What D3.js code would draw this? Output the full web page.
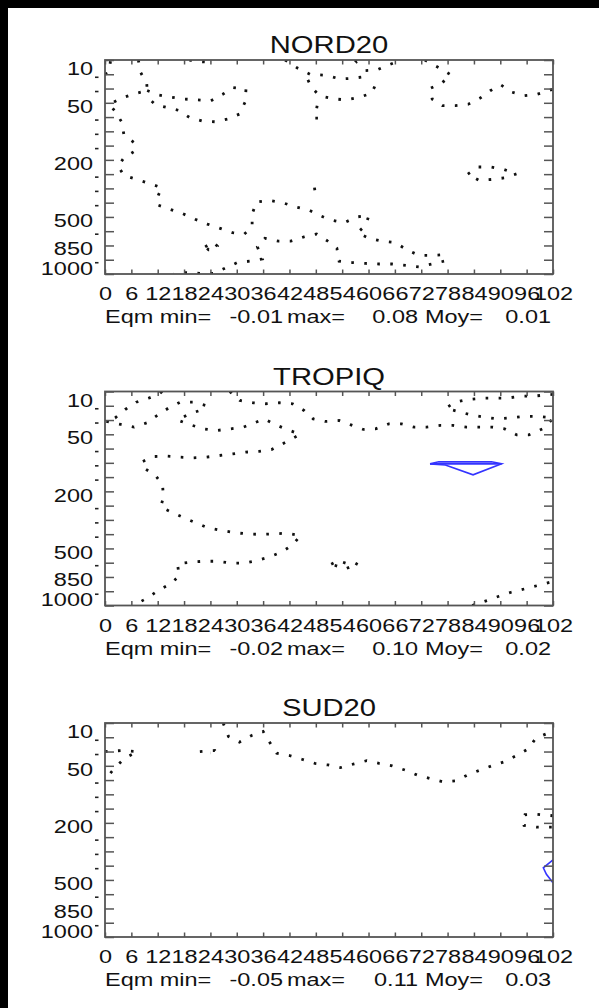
<!DOCTYPE html>
<html>
<head>
<meta charset="utf-8">
<script src="https://cdn.jsdelivr.net/npm/d3@7"></script>
<style>
html, body { margin: 0; padding: 0; background: #fff; }
svg { display: block; }
text { font-family: "Liberation Sans", Arial, Helvetica, sans-serif; fill: #111; }
</style>
</head>
<body>
<svg id="chart"></svg>
<script>
// pressure levels (one tick each, equally spaced) and forecast hours
var levels = [10, 20, 30, 50, 70, 100, 150, 200, 250, 300, 400, 500, 700, 850, 925, 1000];
var yLabels = ["10", "50", "200", "500", "850", "1000"];
var yLabelPos = [0.6, 3.25, 7.25, 11.25, 13.2, 14.6];
var dashPos = [1, 2, 4, 5, 6, 8, 9, 10, 12, 14];
var xTicks = [0, 6, 12, 18, 24, 30, 36, 42, 48, 54, 60, 66, 72, 78, 84, 90, 96, 102];

var panelNames = ["NORD20", "TROPIQ", "SUD20"];
var statMin = ["-0.01", "-0.02", "-0.05"];
var statMax = ["0.08", "0.10", "0.11"];
var statMoy = ["0.01", "0.02", "0.03"];

// contours : [hour, level index]
var nordDotted = [
    [[7.6,0],[8.0,0.81],[9.5,1.63],[9.6,2.14],[6.7,2.37],[3.8,2.67],[1.0,3.1],[2.3,3.6],[3.8,4.35],[4.3,5.23],[6.7,5.81],[6.7,6.4],[4.3,6.86],[3.0,7.44],[4.3,8.09],[7.2,8.37],[10.1,8.65],[12.9,8.95],[12.0,9.58],[12.0,10.16],[14.8,10.47],[17.7,10.77],[20.5,11.16],[23.3,11.5],[26.2,11.8],[29.0,12.1],[31.7,12.2],[33.5,11.7],[33.5,10.8],[34.5,9.95],[37.4,9.84],[40.4,10.0],[43.4,10.3],[46.3,10.5],[48.9,10.9],[51.2,11.2],[54.5,11.4],[57.3,11.0],[60.1,10.9],[59.3,11.6],[57.5,12.1],[60.1,12.5],[63.1,12.7],[66.1,12.8],[68.7,13.3],[71.5,13.7],[74.4,13.7],[77.2,13.65],[77.2,14.1],[74.4,14.3],[71.5,14.5],[68.5,14.4],[65.4,14.3],[62.4,14.3],[59.3,14.26],[56.3,14.2],[53.3,14.1],[52.8,13.2],[50.5,12.65],[48.2,12.2],[45.3,12.4],[42.3,12.7],[39.5,12.7],[36.4,12.5],[34.7,13.1],[35.8,13.95],[33.0,14.1],[30.1,14.2],[27.3,14.6],[24.7,14.95],[21.6,14.95],[18.4,14.9],[15.7,15.0]],
    [[9.6,2.14],[12.1,2.44],[14.9,2.6],[18.1,2.74],[21.0,2.79],[24.1,2.86],[26.8,2.4],[29.2,1.93],[32.1,2.05],[31.9,2.95],[30.6,3.79],[27.9,4.14],[25.0,4.33],[22.2,4.28],[19.2,4.02],[16.8,3.53],[13.8,3.3],[11.5,3.14],[9.6,2.6]],
    [[0,1.0],[0.8,0.9],[1.3,0]],
    [[19.2,0],[20.1,0.08],[23.3,0.15],[24.5,0]],
    [[41.0,0],[43.9,0.58],[46.7,1.0],[50.5,1.08],[53.5,1.33],[56.5,1.28],[59.3,1.16],[59.3,0.74],[61.9,0.7],[64.5,0.35],[67.5,0]],
    [[46.2,1.4],[47.0,1.9],[48.8,2.5],[52.0,2.72],[54.8,2.8],[57.7,2.63],[60.7,2.33],[61.5,1.8],[61.8,1.4]],
    [[48.3,3.2],[47.8,4.07],[50.3,4.07]],
    [[47.7,8.95],[47.9,9.45]],
    [[56.9,0],[57.3,0.12],[57.7,0]],
    [[72.8,0],[76.3,0.58],[78.8,1.05],[76.6,1.63],[74.0,2.0],[74.5,2.74],[76.8,3.2],[79.8,3.2],[82.7,3.1],[85.4,2.67],[87.8,2.14],[90.1,1.74],[92.7,2.26],[95.4,2.5],[98.4,2.4],[102,2.05]],
    [[82.6,8.0],[85.0,7.5],[87.8,7.5],[90.8,7.67],[93.7,7.98],[91.0,8.26],[88.2,8.37],[85.2,8.44],[82.6,8.0]],
    [[22.8,13.1],[24.6,12.75],[25.6,13.05],[25.2,13.3],[23.6,13.3],[22.8,13.1]]
];
var nordSolid = [];

var tropDotted = [
    [[13.0,0],[12.4,0.16],[9.9,0.47],[7.1,0.75],[4.6,1.26],[2.3,1.85],[0.3,2.05]],
    [[0.3,2.1],[3.6,2.31],[6.6,2.5],[9.5,2.2],[11.9,1.68],[14.4,1.17],[17.1,0.75],[20.0,0.75],[23.0,0.98],[22.0,1.29],[19.2,1.57],[16.5,2.0],[19.5,2.34],[22.5,2.62],[25.4,2.73],[28.6,2.62],[31.5,2.5],[34.0,2.2],[36.3,1.92],[38.9,2.34],[41.7,2.69],[44.4,3.0],[42.7,3.3],[40.4,3.67],[37.9,4.07],[35.1,4.2],[32.0,4.25],[29.1,4.37],[26.0,4.49],[23.0,4.6],[20.0,4.65],[17.1,4.6],[14.0,4.53],[11.0,4.56],[8.3,4.95],[8.9,5.37],[11.5,5.89],[13.1,6.54],[13.3,7.4],[12.7,8.1],[15.4,8.5],[18.2,8.88],[20.9,9.23],[23.5,9.56],[26.6,9.74],[29.6,9.9],[32.4,9.98],[35.5,10.02],[38.5,9.98],[41.6,9.93],[44.5,10.1],[42.7,10.75],[40.2,11.26],[37.4,11.6],[34.5,11.85],[31.6,12.03],[28.6,12.03],[25.6,11.9],[22.5,11.9],[19.5,11.96],[16.5,12.08],[16.9,12.94],[14.8,13.5],[12.1,13.95],[9.7,14.46],[6.8,14.95],[6.3,15]],
    [[28.4,0],[30.7,0.63],[33.8,0.79],[36.6,0.86],[39.7,0.79],[42.7,0.86],[45.3,1.33],[47.4,1.92],[50.1,2.1],[53.3,2.03],[56.0,2.34],[58.8,2.66],[61.6,2.62],[64.6,2.27],[67.5,2.27],[70.4,2.5],[73.2,2.5],[76.3,2.38],[79.3,2.38],[82.3,2.5],[85.1,2.5],[88.2,2.5],[91.0,2.62],[93.7,3.04],[96.5,3.04],[99.6,2.62],[102,1.9]],
    [[102,0.2],[100.6,0.23],[97.5,0.33],[94.7,0.33],[91.4,0.47],[88.6,0.47],[85.6,0.47],[82.7,0.56],[79.7,0.75],[77.6,1.17],[80.4,1.4],[83.3,1.64],[86.4,1.8],[89.4,1.92],[92.4,1.85],[95.5,1.73],[98.5,1.75],[102,1.85]],
    [[51.5,12.1],[53.1,11.85],[55,12.05],[56.5,11.95],[57.7,12.15],[55.8,12.3],[54.6,12.45],[53,12.25],[51.5,12.1]],
    [[83.6,15],[87.0,14.65],[89.7,14.35],[92.5,14.07],[95.6,13.83],[98.5,13.6],[101.5,13.36],[102,13.25]]
];
var tropSolid = [
    [[74.0,5.07],[76.0,4.93],[88.0,4.93],[90.3,5.07],[83.8,5.84],[77.5,5.15],[74.0,5.07]],
    [[74.0,5.07],[90.3,5.07]]
];

var sudDotted = [
    [[0,2.0],[3.8,1.93],[7.4,2.0],[5.5,2.3],[4.3,2.52],[2.3,3.13],[0,3.95]],
    [[21.6,2.0],[23.5,1.95],[25.0,1.93],[25.6,2.15],[24.0,2.1]],
    [[26.9,0],[28.1,0.94],[30.6,1.34],[33.4,0.87],[36.0,0.59],[37.6,1.41],[39.1,2.12],[42.0,2.28],[44.8,2.54],[47.8,2.83],[50.8,2.94],[53.6,3.13],[56.7,2.87],[59.6,2.64],[62.4,2.83],[65.4,3.01],[68.3,3.3],[71.1,3.65],[74.0,3.89],[76.9,4.12],[79.9,4.05],[82.5,3.65],[85.4,3.3],[88.2,2.99],[91.0,2.71],[93.7,2.28],[96.4,1.81],[98.1,1.06],[100.9,0.71],[102,0.6]],
    [[102,6.5],[98.3,6.4],[95.6,6.43],[95.0,6.8],[95.4,7.18],[98.3,7.3],[102,7.3]]
];
var sudSolid = [
    [[102,9.6],[101.3,9.77],[99.8,10.15],[100.5,10.6],[102,11.2]]
];

var panelDotted = [nordDotted, tropDotted, sudDotted];
var panelSolid = [nordSolid, tropSolid, sudSolid];

var width = 599, height = 1008;
var left = 105, right = 553, plotH = 214;
var tops = [60, 391.5, 723];
var sx = 1.27;   // the picture's fonts are stretched sideways

var svg = d3.select("#chart")
    .attr("width", width)
    .attr("height", height);

svg.append("rect").attr("width", width).attr("height", height).attr("fill", "#fff");
svg.append("rect").attr("width", 8).attr("height", height).attr("fill", "#000");
svg.append("rect").attr("width", width).attr("height", 8).attr("fill", "#000");

var x = d3.scaleLinear().domain([0, 102]).range([left, right]);

function stretched(g, px, py, size, anchor, str) {
    return g.append("text")
        .attr("transform", "translate(" + px + "," + py + ") scale(" + sx + ",1)")
        .attr("text-anchor", anchor)
        .style("font-size", size + "px")
        .text(str);
}

panelNames.forEach(function (name, i) {
    var top = tops[i];
    var y = d3.scaleLinear().domain([0, levels.length - 1]).range([top, top + plotH]);
    var g = svg.append("g");

    g.append("clipPath").attr("id", "clip" + i)
        .append("rect").attr("x", left).attr("y", top)
        .attr("width", right - left).attr("height", plotH);

    var line = d3.line()
        .x(function (d) { return x(d[0]); })
        .y(function (d) { return y(d[1]); });

    var marks = g.append("g").attr("clip-path", "url(#clip" + i + ")");
    marks.selectAll("path.dot")
        .data(panelDotted[i])
        .enter().append("path")
        .attr("class", "dot")
        .attr("d", line)
        .attr("fill", "none")
        .attr("stroke", "#111")
        .attr("stroke-width", 2.8)
        .attr("stroke-dasharray", "2.6 10.4");
    marks.selectAll("path.solid")
        .data(panelSolid[i])
        .enter().append("path")
        .attr("class", "solid")
        .attr("d", line)
        .attr("fill", "none")
        .attr("stroke", "#3434ff")
        .attr("stroke-width", 1.6);

    // frame and ticks
    var idx = levels.map(function (d, k) { return k; });
    var axes = [
        [d3.axisBottom(x).tickValues(xTicks).tickSize(-4.5), "translate(0," + (top + plotH) + ")"],
        [d3.axisTop(x).tickValues(xTicks).tickSize(-4.5).tickFormat(""), "translate(0," + top + ")"],
        [d3.axisLeft(y).tickValues(idx).tickSize(-9).tickFormat(""), "translate(" + left + ",0)"],
        [d3.axisRight(y).tickValues(idx).tickSize(-9).tickFormat(""), "translate(" + right + ",0)"]
    ];
    axes.forEach(function (a, k) {
        var ax = g.append("g").attr("transform", a[1]).call(a[0]);
        ax.select(".domain").remove();
        ax.selectAll(".tick line").attr("stroke", "#555").attr("stroke-width", 1.5);
        if (k == 0) {
            ax.selectAll(".tick text")
                .attr("y", 0).attr("dy", 0)
                .attr("transform", "translate(0,26) scale(" + sx + ",1)")
                .style("font-size", "18.5px")
                .style("font-family", "'Liberation Sans', Arial, sans-serif")
                .attr("fill", "#111");
        }
    });
    g.append("rect")
        .attr("x", left).attr("y", top)
        .attr("width", right - left).attr("height", plotH)
        .attr("fill", "none").attr("stroke", "#555").attr("stroke-width", 1.8);

    // y labels and the little dashes
    yLabels.forEach(function (lab, k) {
        stretched(g, 93, y(yLabelPos[k]) + 6.6, 18.5, "end", lab);
    });
    g.selectAll("line.dash")
        .data(dashPos)
        .enter().append("line")
        .attr("class", "dash")
        .attr("x1", 95).attr("x2", 98.5)
        .attr("y1", function (d) { return y(d) + 3; })
        .attr("y2", function (d) { return y(d) + 3; })
        .attr("stroke", "#222").attr("stroke-width", 1.6);

    stretched(g, (left + right) / 2, top - 7, 23, "middle", name);

    var sy = top + plotH + 49;
    stretched(g, 105, sy, 18.5, "start", "Eqm min=");
    stretched(g, 283, sy, 18.5, "end", statMin[i]);
    stretched(g, 287, sy, 18.5, "start", "max=");
    stretched(g, 418, sy, 18.5, "end", statMax[i]);
    stretched(g, 425, sy, 18.5, "start", "Moy=");
    stretched(g, 551, sy, 18.5, "end", statMoy[i]);
});
</script>
</body>
</html>
